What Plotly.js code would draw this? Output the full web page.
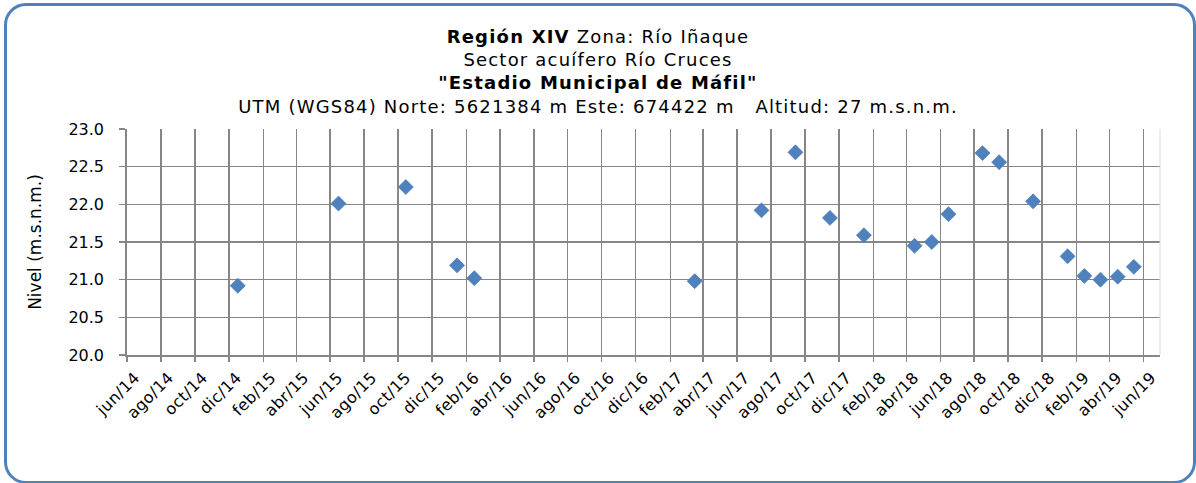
<!DOCTYPE html>
<html>
<head>
<meta charset="utf-8">
<script src="https://cdn.plot.ly/plotly-3.0.1.min.js"></script>
<style>
  html, body { margin: 0; padding: 0; background: #ffffff; }
  #wrap { position: relative; width: 1196px; height: 483px; }
  #chart { position: absolute; left: 0; top: 0; width: 1196px; height: 483px; }
  #frame {
    position: absolute; left: 4px; top: 3px; width: 1186px; height: 475px;
    border: 3.5px solid #4f81bd; border-radius: 22px; pointer-events: none;
  }
  /* Verdana-like loose spacing for the heading */
  #chart .gtitle { letter-spacing: 1.2px; }
  #chart .xtick text { letter-spacing: 0.4px; }
</style>
</head>
<body>
<div id="wrap">
  <div id="chart"></div>
  <div id="frame"></div>
</div>
<script>
// Measurement dates and groundwater level (m.s.n.m.)
const dates = [
  '2014-12-17', '2015-06-16', '2015-10-15', '2016-01-15', '2016-02-15',
  '2017-03-17', '2017-07-15', '2017-09-14', '2017-11-15', '2018-01-15',
  '2018-04-16', '2018-05-17', '2018-06-16', '2018-08-16', '2018-09-15',
  '2018-11-15', '2019-01-16', '2019-02-15', '2019-03-16', '2019-04-16',
  '2019-05-15'
];
const levels = [
  20.92, 22.01, 22.23, 21.19, 21.02,
  20.98, 21.92, 22.69, 21.82, 21.59,
  21.45, 21.50, 21.87, 22.68, 22.56,
  22.04, 21.31, 21.05, 21.00, 21.04,
  21.17
];

// Bimonthly tick positions and their Spanish labels
const tickDates = [
  '2014-06-01', '2014-08-01', '2014-10-01', '2014-12-01',
  '2015-02-01', '2015-04-01', '2015-06-01', '2015-08-01', '2015-10-01', '2015-12-01',
  '2016-02-01', '2016-04-01', '2016-06-01', '2016-08-01', '2016-10-01', '2016-12-01',
  '2017-02-01', '2017-04-01', '2017-06-01', '2017-08-01', '2017-10-01', '2017-12-01',
  '2018-02-01', '2018-04-01', '2018-06-01', '2018-08-01', '2018-10-01', '2018-12-01',
  '2019-02-01', '2019-04-01', '2019-06-01'
];
const tickLabels = [
  'jun/14', 'ago/14', 'oct/14', 'dic/14',
  'feb/15', 'abr/15', 'jun/15', 'ago/15', 'oct/15', 'dic/15',
  'feb/16', 'abr/16', 'jun/16', 'ago/16', 'oct/16', 'dic/16',
  'feb/17', 'abr/17', 'jun/17', 'ago/17', 'oct/17', 'dic/17',
  'feb/18', 'abr/18', 'jun/18', 'ago/18', 'oct/18', 'dic/18',
  'feb/19', 'abr/19', 'jun/19'
];

const FONT = '"DejaVu Sans", Verdana, sans-serif';
const GRID = '#868686';
const NBSP = '\u00a0';

const trace = {
  type: 'scatter',
  mode: 'markers',
  x: dates,
  y: levels,
  marker: {
    symbol: 'diamond',
    size: 11.5,
    color: '#4f81bd',
    line: { color: '#4a7ebb', width: 0.75 }
  },
  hoverinfo: 'x+y'
};

const titleText =
  '<b>Región XIV</b> Zona: Río Iñaque<br>' +
  'Sector acuífero Río Cruces<br>' +
  '<b>"Estadio Municipal de Máfil"</b><br>' +
  'UTM (WGS84) Norte: 5621384 m Este: 674422 m' + NBSP + NBSP + NBSP + 'Altitud: 27 m.s.n.m.';

const layout = {
  width: 1196,
  height: 483,
  paper_bgcolor: '#ffffff',
  plot_bgcolor: '#ffffff',
  margin: { l: 127, r: 36, t: 129, b: 128 },
  showlegend: false,
  font: { family: FONT, color: '#000000', size: 16 },
  title: {
    text: titleText,
    font: { family: FONT, size: 18, color: '#000000' },
    x: 0.5,
    xanchor: 'center',
    xref: 'container',
    yref: 'container',
    y: 0.912,
    yanchor: 'top'
  },
  xaxis: {
    type: 'date',
    range: ['2014-06-01', '2019-07-01'],
    tickmode: 'array',
    tickvals: tickDates,
    ticktext: tickLabels,
    tickangle: -45,
    tickfont: { family: FONT, size: 16, color: '#000000' },
    ticks: 'outside',
    ticklen: 5,
    tickcolor: GRID,
    tickwidth: 1.3,
    ticklabelshift: 8,
    showgrid: true,
    gridcolor: GRID,
    gridwidth: 1.3,
    showline: true,
    linecolor: GRID,
    linewidth: 1.8,
    zeroline: false,
    fixedrange: true
  },
  yaxis: {
    range: [20, 23],
    tickmode: 'linear',
    tick0: 20,
    dtick: 0.5,
    tickformat: '.1f',
    tickfont: { family: FONT, size: 16, color: '#000000' },
    ticks: 'outside',
    ticklen: 6,
    tickcolor: GRID,
    tickwidth: 1.3,
    ticklabelstandoff: 12,
    showgrid: true,
    gridcolor: GRID,
    gridwidth: 1.3,
    showline: true,
    linecolor: GRID,
    linewidth: 1.8,
    zeroline: false,
    fixedrange: true,
    title: {
      text: 'Nivel (m.s.n.m.)',
      font: { family: FONT, size: 17, color: '#000000' },
      standoff: 22
    }
  },
  shapes: [
    {
      type: 'line', xref: 'paper', yref: 'paper',
      x0: 1, x1: 1, y0: 0, y1: 1,
      line: { color: '#d9d9d9', width: 1 }
    }
  ]
};

Plotly.newPlot('chart', [trace], layout, { displayModeBar: false, staticPlot: true });
</script>
</body>
</html>
